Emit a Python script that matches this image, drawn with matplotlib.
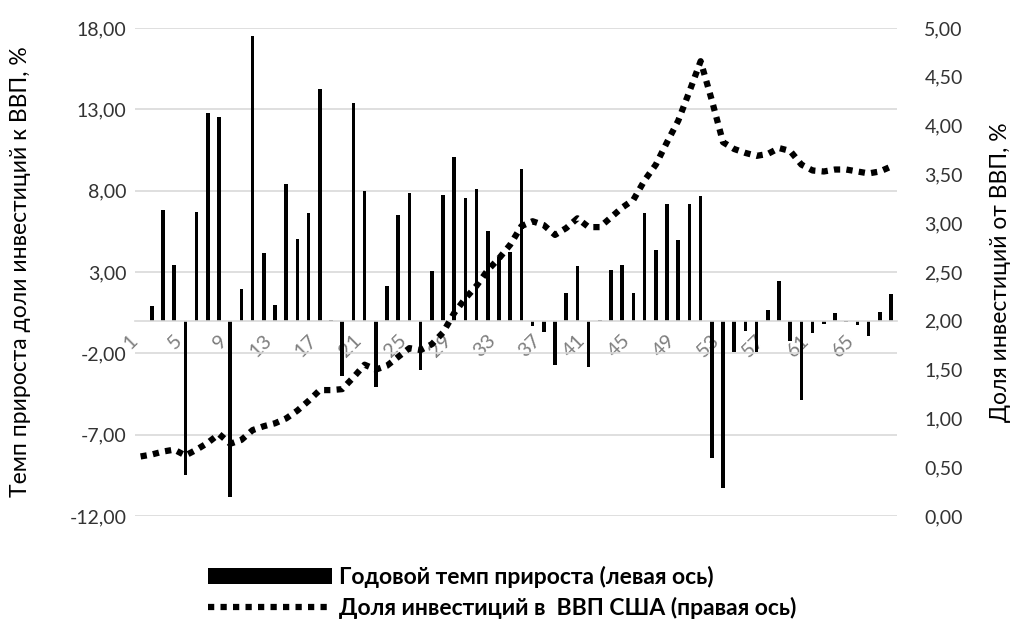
import numpy as np
import matplotlib
matplotlib.use('Agg')
from matplotlib import pyplot as plt
from matplotlib.patches import Patch
from matplotlib.lines import Line2D

plt.rcParams['font.family'] = ['Lato', 'Open Sans', 'DejaVu Sans']

# Годовой темп прироста доли инвестиций (левая ось), %
growth = [0, 0.9, 6.8, 3.45, -9.45, 6.7, 12.75, 12.55, -10.85, 1.95,
          17.5, 4.15, 0.95, 8.4, 5.0, 6.65, 14.25, 0.05, -3.4, 13.4,
          7.95, -4.05, 2.15, 6.5, 7.85, -3.05, 3.05, 7.75, 10.05, 7.55,
          8.1, 5.55, 3.95, 4.2, 9.35, -0.35, -0.7, -2.7, 1.7, 3.35,
          -2.85, 0.05, 3.15, 3.4, 1.7, 6.65, 4.35, 7.15, 4.95, 7.2,
          7.7, -8.45, -10.3, -1.9, -0.6, -1.9, 0.65, 2.45, -1.25, -4.85,
          -0.75, -0.2, 0.5, -0.05, -0.25, -0.95, 0.55, 1.65]

# Доля инвестиций в ВВП США (правая ось), %
share = [0.61, 0.63, 0.66, 0.68, 0.62, 0.68, 0.75, 0.84, 0.74, 0.78,
         0.88, 0.92, 0.95, 1.00, 1.08, 1.18, 1.29, 1.29, 1.30, 1.42,
         1.55, 1.50, 1.54, 1.63, 1.72, 1.70, 1.76, 1.88, 2.08, 2.23,
         2.36, 2.52, 2.64, 2.78, 2.97, 3.02, 2.98, 2.88, 2.95, 3.05,
         2.96, 2.96, 3.06, 3.16, 3.24, 3.44, 3.60, 3.83, 4.05, 4.35,
         4.66, 4.26, 3.83, 3.76, 3.72, 3.69, 3.71, 3.77, 3.74, 3.60,
         3.54, 3.53, 3.55, 3.55, 3.53, 3.51, 3.53, 3.58]

left_ticks = [-12, -7, -2, 3, 8, 13, 18]
right_ticks = [0, 0.5, 1, 1.5, 2, 2.5, 3, 3.5, 4, 4.5, 5]
x_ticks = list(range(1, 69, 4))

label_bar = 'Годовой темп прироста (левая ось)'
label_line = 'Доля инвестиций в  ВВП США (правая ось)'

def fmt(v):
    return f'{v:.2f}'.replace('.', ',')

x = np.arange(1, len(growth) + 1)

fig = plt.figure(figsize=(10.12, 6.21), dpi=100)
ax = fig.add_axes([0.1334, 0.1691, 0.7526, 0.7858])
ax.bar(x, growth, width=0.33, color='black', zorder=2)
ax.set_xlim(0.5, len(growth) + 0.5)
ax.set_ylim(-12, 18)
ax.set_yticks(left_ticks)
ax.set_yticklabels([fmt(v) for v in left_ticks])
ax.yaxis.grid(True, color='#d9d9d9', lw=1.2)
ax.set_axisbelow(True)
for s in ['top', 'left', 'right']:
    ax.spines[s].set_visible(False)
ax.spines['bottom'].set_position(('data', 0))
ax.spines['bottom'].set_color('#d9d9d9')
ax.spines['bottom'].set_linewidth(1.2)
ax.set_xticks(x_ticks)
ax.set_xticklabels([str(t) for t in x_ticks], rotation=45, ha='right',
                   color='#7f7f7f', fontsize=14.5)
ax.tick_params(axis='x', length=0, pad=8)
ax.tick_params(axis='y', length=0, pad=6, labelsize=14, labelcolor='#333333')
ax.set_ylabel('Темп прироста доли инвестиций к ВВП, %', fontsize=16.5)
ax.yaxis.set_label_coords(-0.1366, 0.5)

ax2 = ax.twinx()
ax2.plot(x, share, color='black', lw=4.5, linestyle=(0, (1, 1)),
         dash_capstyle='butt', zorder=3)
ax2.set_ylim(0, 5)
ax2.set_yticks(right_ticks)
ax2.set_yticklabels([fmt(v) for v in right_ticks])
for s in ['top', 'left', 'right', 'bottom']:
    ax2.spines[s].set_visible(False)
ax2.tick_params(axis='y', length=0, pad=20, labelsize=14, labelcolor='#333333')
ax2.set_ylabel('Доля инвестиций от ВВП, %', fontsize=16.5)
ax2.yaxis.set_label_coords(1.1227, 0.5)

handles = [Patch(facecolor='black'),
           Line2D([], [], color='black', lw=4.5, linestyle=(0, (1, 1)),
                  dash_capstyle='butt')]
fig.legend(handles, [label_bar, label_line], loc='center',
           bbox_to_anchor=(0.4965, 0.046), frameon=False,
           prop={'size': 16.5, 'weight': 'bold'}, handlelength=5.4,
           handleheight=0.65, handletextpad=0.3, labelspacing=0.38)

plt.savefig('out.png', dpi=100)
